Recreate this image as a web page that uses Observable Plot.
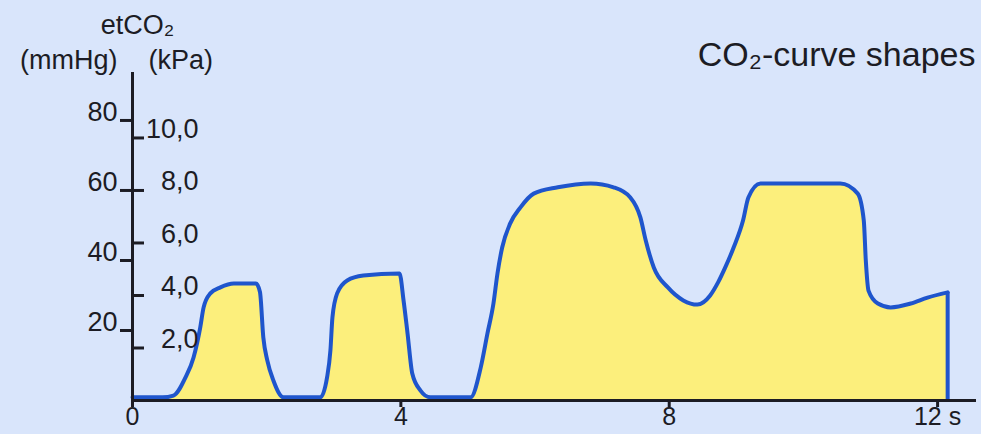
<!DOCTYPE html>
<html>
<head>
<meta charset="utf-8">
<script src="https://cdn.jsdelivr.net/npm/d3@7"></script>
<script src="https://cdn.jsdelivr.net/npm/@observablehq/plot@0.6"></script>
<style>
  html, body { margin: 0; padding: 0; background: #d9e5fb; }
  #chart svg { display: block; }
</style>
</head>
<body>
<div id="chart"></div>
<script>
// time (s)
const timeS = [0, 0.45, 0.61, 0.79, 0.91, 1.01, 1.06, 1.16, 1.31, 1.51, 1.84, 1.90, 1.95, 2.01, 2.10, 2.25,
  2.80, 2.90, 2.95, 2.98, 3.05, 3.20, 3.44, 3.98, 4.04, 4.10, 4.17, 4.29, 4.44,
  5.04, 5.19, 5.29, 5.38, 5.44, 5.51, 5.63, 5.78, 5.98, 6.34, 6.83, 7.17, 7.42, 7.57, 7.65, 7.77, 7.98,
  8.21, 8.42, 8.61, 8.73, 8.83, 8.96, 9.10, 9.18, 9.36, 10.55, 10.81, 10.90, 10.93, 10.97, 11.11,
  11.30, 11.60, 11.85, 12.15];
// etCO2 (mmHg)
const co2mmHg = [0.9, 0.9, 1.4, 6.6, 12.3, 20.9, 26.6, 30.6, 32.3, 33.4, 33.4, 31.0, 18.0, 11.4, 5.7, 0.9,
  0.9, 6.6, 14.3, 23.7, 30.6, 34.3, 35.7, 36.3, 28.6, 19.1, 7.7, 2.9, 0.9,
  0.9, 9.4, 19.1, 27.7, 36.3, 43.7, 50.6, 55.1, 59.1, 60.9, 62.0, 60.9, 58.0, 52.3, 45.7, 38.0, 32.3,
  28.6, 27.4, 30.0, 33.8, 37.8, 43.7, 51.4, 58.0, 62.0, 62.0, 59.1, 51.4, 40.0, 31.4, 27.7,
  26.6, 27.7, 29.4, 30.9];

const mmHgTicks = [20, 40, 60, 80];
const kPaTicks = [2, 4, 6, 8, 10];
const timeTicks = [0, 4, 8, 12];
const mmHgPerKPa = 7.5;

const data = timeS.map((t, i) => ({t, v: co2mmHg[i]}));
const last = data[data.length - 1];

const FONT = "'Liberation Sans', Arial, sans-serif";
const INK = "#1c1c24";
const BLUE = "#1f55cc";

const chart = Plot.plot({
  width: 981,
  height: 434,
  marginLeft: 132,
  marginRight: 5,
  marginTop: 72,
  marginBottom: 34,
  x: {domain: [0, 12.58]},
  y: {domain: [0, 93.7]},
  style: {background: "#d9e5fb", fontFamily: FONT, color: INK, overflow: "visible"},
  marks: [
    Plot.areaY(data, {x: "t", y: "v", fill: "#fcef7c", curve: "monotone-x"}),
    Plot.lineY(data, {x: "t", y: "v", stroke: BLUE, strokeWidth: 4, strokeLinejoin: "round", curve: "monotone-x"}),
    Plot.ruleX([last], {x: "t", y1: 0, y2: "v", stroke: BLUE, strokeWidth: 4}),
    Plot.ruleX([0], {stroke: INK, strokeWidth: 3}),
    Plot.ruleY([0], {stroke: INK, strokeWidth: 3}),
    // mmHg ticks (left)
    Plot.axisY(mmHgTicks, {anchor: "left", tickSize: 12, strokeWidth: 3, stroke: INK, fill: "none", label: null}),
    // kPa ticks (right of the axis line)
    Plot.axisY(kPaTicks.map(k => k * mmHgPerKPa), {anchor: "right", frameAnchor: "left", tickSize: 11, strokeWidth: 3, stroke: INK, fill: "none", label: null}),
    Plot.text(mmHgTicks, {y: d => d, frameAnchor: "left", dx: -15, dy: -8, textAnchor: "end", fontSize: 27, fill: INK, text: d => String(d)}),
    Plot.text(kPaTicks, {y: d => d * mmHgPerKPa, frameAnchor: "left", dx: 66, dy: -9, textAnchor: "end", fontSize: 27, fill: INK, text: d => d.toFixed(1).replace(".", ",")}),
    Plot.axisX(timeTicks, {anchor: "bottom", tickSize: 7, strokeWidth: 3, stroke: INK, fill: INK, fontSize: 25, tickPadding: 0, label: null,
      tickFormat: d => d === 12 ? "12 s" : String(d)}),
    Plot.text(["etCO₂"], {frameAnchor: "top-left", dx: 5, dy: -39, lineAnchor: "bottom", textAnchor: "middle", fontSize: 27, fill: INK}),
    Plot.text(["(mmHg)"], {frameAnchor: "top-left", dx: -15, dy: -4, lineAnchor: "bottom", textAnchor: "end", fontSize: 27, fill: INK}),
    Plot.text(["(kPa)"], {frameAnchor: "top-left", dx: 16, dy: -4, lineAnchor: "bottom", textAnchor: "start", fontSize: 27, fill: INK}),
    Plot.text(["CO₂-curve shapes"], {frameAnchor: "top-right", dx: -1, dy: -7, lineAnchor: "bottom", textAnchor: "end", fontSize: 34, fill: INK})
  ]
});
document.getElementById("chart").appendChild(chart);
</script>
</body>
</html>
